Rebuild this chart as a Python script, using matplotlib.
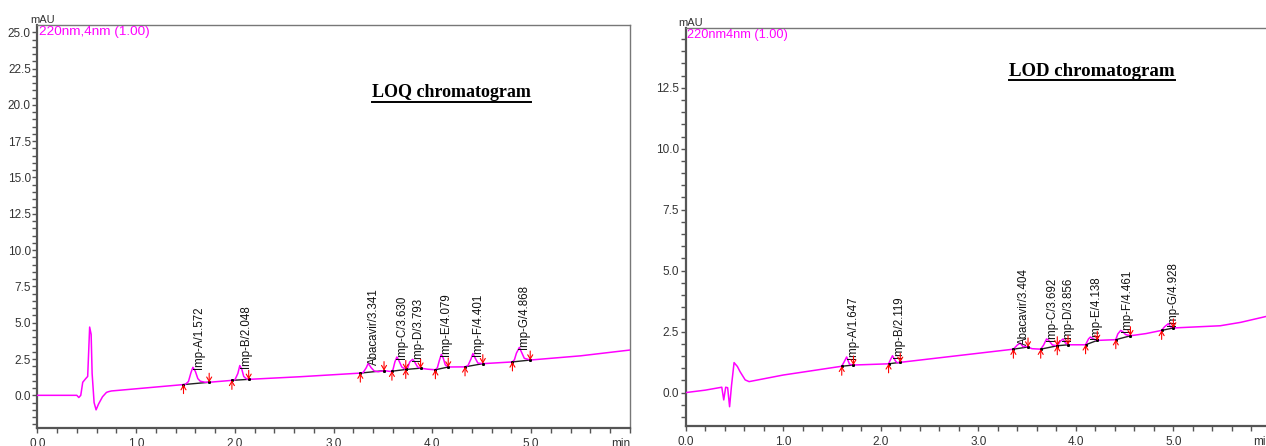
import matplotlib
matplotlib.use('Agg')
import matplotlib.pyplot as plt
from matplotlib.ticker import FixedLocator, MultipleLocator, FormatStrFormatter
from matplotlib.lines import Line2D

plt.rcParams['font.family'] = ['Liberation Sans', 'DejaVu Sans']

# ---------------- LOQ chromatogram (left) ----------------
loq_t = [0.00, 0.40, 0.42, 0.44, 0.46, 0.49, 0.51, 0.53, 0.545, 0.555, 0.575, 0.595,
         0.62, 0.66, 0.70, 0.72, 0.75, 1.00, 1.48,
         1.50, 1.53, 1.555, 1.575, 1.60, 1.625, 1.65, 1.70, 1.74,
         1.97, 2.00, 2.03, 2.05, 2.07, 2.09, 2.12, 2.14,
         2.66, 3.27,
         3.30, 3.33, 3.35, 3.38, 3.41, 3.45, 3.51,
         3.58, 3.60, 3.62, 3.64, 3.66, 3.69, 3.73,
         3.75, 3.77, 3.80, 3.82, 3.85, 3.88,
         3.95, 4.03,
         4.05, 4.07, 4.09, 4.11, 4.13, 4.16,
         4.33, 4.36, 4.39, 4.41, 4.43, 4.46, 4.51,
         4.81, 4.83, 4.85, 4.88, 4.90, 4.93, 4.99,
         5.50, 6.00]
loq_y = [0.00, 0.00, -0.15, 0.00, 0.90, 1.15, 1.30, 4.70, 4.20, 1.50, -0.50, -1.00,
         -0.60, -0.10, 0.20, 0.25, 0.30, 0.45, 0.74,
         0.76, 0.95, 1.55, 1.93, 1.65, 1.15, 0.97, 0.90, 0.90,
         1.03, 1.06, 1.50, 2.05, 1.80, 1.30, 1.12, 1.10,
         1.28, 1.53,
         1.58, 1.90, 2.20, 1.90, 1.68, 1.62, 1.70,
         1.64, 1.75, 2.30, 2.64, 2.40, 1.95, 1.78,
         1.90, 2.30, 2.48, 2.30, 1.95, 1.87,
         1.80, 1.76,
         1.90, 2.40, 2.82, 2.55, 2.10, 1.95,
         1.96, 2.05, 2.50, 2.88, 2.60, 2.22, 2.18,
         2.30, 2.45, 2.90, 3.30, 3.00, 2.55, 2.43,
         2.72, 3.12]
loq_names = ['Imp-A', 'Imp-B', 'Abacavir', 'Imp-C', 'Imp-D', 'Imp-E', 'Imp-F', 'Imp-G']
loq_rt = [1.572, 2.048, 3.341, 3.630, 3.793, 4.079, 4.401, 4.868]
loq_apex = [1.93, 2.05, 2.20, 2.64, 2.48, 2.82, 2.88, 3.30]
loq_start_t = [1.48, 1.97, 3.27, 3.59, 3.73, 4.03, 4.33, 4.81]
loq_start_y = [0.74, 1.03, 1.53, 1.66, 1.78, 1.76, 1.96, 2.30]
loq_end_t = [1.74, 2.14, 3.51, 3.73, 3.88, 4.16, 4.51, 4.99]
loq_end_y = [0.90, 1.10, 1.70, 1.78, 1.87, 1.95, 2.18, 2.43]

# ---------------- LOD chromatogram (right) ----------------
lod_t = [0.00, 0.20, 0.37, 0.39, 0.41, 0.43, 0.45, 0.47, 0.496, 0.53, 0.557, 0.61, 0.65,
         1.00, 1.60,
         1.63, 1.65, 1.68, 1.72,
         2.08, 2.10, 2.12, 2.15, 2.17, 2.20,
         3.36, 3.40, 3.43, 3.46, 3.48, 3.51,
         3.55, 3.64, 3.67, 3.70, 3.72, 3.76, 3.81,
         3.84, 3.87, 3.89, 3.92,
         4.10, 4.13, 4.15, 4.18, 4.22,
         4.41, 4.43, 4.46, 4.48, 4.51, 4.56,
         4.72, 4.88, 4.91, 4.95, 4.97, 5.00,
         5.48, 5.69, 5.96]
lod_y = [0.00, 0.10, 0.22, -0.30, 0.22, 0.20, -0.58, 0.30, 1.23, 1.07, 0.86, 0.52, 0.45,
         0.72, 1.08,
         1.30, 1.46, 1.16, 1.13,
         1.18, 1.35, 1.51, 1.30, 1.22, 1.24,
         1.78, 1.95, 2.03, 1.88, 1.90, 1.87,
         1.80, 1.78, 1.95, 2.20, 2.15, 1.95, 1.92,
         2.10, 2.20, 2.05, 1.96,
         1.96, 2.20, 2.28, 2.20, 2.14,
         2.17, 2.40, 2.55, 2.50, 2.38, 2.33,
         2.42, 2.55, 2.70, 2.83, 2.70, 2.65,
         2.74, 2.88, 3.13]
lod_names = ['Imp-A', 'Imp-B', 'Abacavir', 'Imp-C', 'Imp-D', 'Imp-E', 'Imp-F', 'Imp-G']
lod_rt = [1.647, 2.119, 3.404, 3.692, 3.856, 4.138, 4.461, 4.928]
lod_apex = [1.46, 1.51, 2.03, 2.20, 2.20, 2.28, 2.55, 2.83]
lod_start_t = [1.60, 2.08, 3.36, 3.64, 3.81, 4.10, 4.41, 4.88]
lod_start_y = [1.08, 1.18, 1.78, 1.78, 1.92, 1.96, 2.17, 2.55]
lod_end_t = [1.72, 2.20, 3.51, 3.81, 3.92, 4.22, 4.56, 5.00]
lod_end_y = [1.13, 1.24, 1.87, 1.92, 1.96, 2.14, 2.33, 2.65]

W, H = 1266, 446
fig = plt.figure(figsize=(W / 100, H / 100), dpi=100)

MAG = '#FF00FF'
AXC = '#555555'
TXC = '#333333'


def px_axes(l, r, t, b):
    return fig.add_axes([l / W, (H - b) / H, (r - l) / W, (b - t) / H])


def draw_panel(ax, t, y, names, rts, apex, st, sy, et, ey, xlim, ylim, yticks,
               wl_text, wl_size, min_x, min_ha, right_spine):
    ax.plot(t, y, color=MAG, lw=1.1, zorder=3)
    for a, b, c, d in zip(st, sy, et, ey):
        ax.plot([a, c], [b, d], color='#222222', lw=1.0, zorder=2)
        ax.plot([a, c], [b, d], ls='none', marker='s', ms=1.1, color='black', zorder=4)
    for a, b in zip(st, sy):
        ax.annotate('', xy=(a, b), xytext=(0, -6.5), textcoords='offset points',
                    arrowprops=dict(arrowstyle='->,head_length=0.3,head_width=0.18',
                                    color='#FF0000', lw=0.8, shrinkA=0, shrinkB=0), zorder=5)
    for a, b in zip(et, ey):
        ax.annotate('', xy=(a, b), xytext=(0, 6.5), textcoords='offset points',
                    arrowprops=dict(arrowstyle='->,head_length=0.3,head_width=0.18',
                                    color='#FF0000', lw=0.8, shrinkA=0, shrinkB=0), zorder=5)
    for n, r, h in zip(names, rts, apex):
        ax.annotate(f'{n}/{r:.3f}', xy=(r, h), xytext=(4.5, -1.5), textcoords='offset points',
                    rotation=90, ha='center', va='bottom', fontsize=8.3, color='#111111')
    ax.set_xlim(*xlim)
    ax.set_ylim(*ylim)
    ax.xaxis.set_major_locator(FixedLocator([0, 1, 2, 3, 4, 5]))
    ax.xaxis.set_minor_locator(MultipleLocator(0.2))
    ax.yaxis.set_major_locator(FixedLocator(yticks))
    ax.yaxis.set_minor_locator(MultipleLocator(0.5))
    ax.xaxis.set_major_formatter(FormatStrFormatter('%.1f'))
    ax.yaxis.set_major_formatter(FormatStrFormatter('%.1f'))
    ax.tick_params(which='both', direction='out', length=3.6, width=1.0, color=AXC,
                   labelcolor=TXC, labelsize=8.5)
    ax.tick_params(axis='y', which='both', pad=1)
    ax.tick_params(axis='x', which='both', pad=3.3)
    ax.spines['left'].set_color(AXC)
    ax.spines['left'].set_linewidth(1.6)
    ax.spines['bottom'].set_color(AXC)
    ax.spines['bottom'].set_linewidth(1.6)
    ax.spines['top'].set_color('#777777')
    ax.spines['top'].set_linewidth(1.0)
    if right_spine:
        ax.spines['right'].set_color('#777777')
        ax.spines['right'].set_linewidth(1.0)
    else:
        ax.spines['right'].set_visible(False)
    ax.annotate(wl_text, xy=(0, 1), xycoords='axes fraction', xytext=(1, -0.5),
                textcoords='offset points', ha='left', va='top', color=MAG, fontsize=wl_size)
    ax.annotate('mAU', xy=(0, 1), xycoords='axes fraction', xytext=(-5.2, 0.3),
                textcoords='offset points', ha='left', va='bottom', color=TXC, fontsize=8)
    ax.annotate('min', xy=(min_x, 0), xycoords='axes fraction', xytext=(0, -7.3),
                textcoords='offset points', ha=min_ha, va='top', color=TXC, fontsize=8.5,
                annotation_clip=False)


ax1 = px_axes(37.3, 630.0, 25.3, 428.0)
draw_panel(ax1, loq_t, loq_y, loq_names, loq_rt, loq_apex,
           loq_start_t, loq_start_y, loq_end_t, loq_end_y,
           (0, 6.0), (-2.25, 25.48), [0, 2.5, 5, 7.5, 10, 12.5, 15, 17.5, 20, 22.5, 25],
           '220nm,4nm (1.00)', 9.7, 1.0, 'right', True)

ax2 = px_axes(685.7, 1266.0, 28.0, 426.0)
draw_panel(ax2, lod_t, lod_y, lod_names, lod_rt, lod_apex,
           lod_start_t, lod_start_y, lod_end_t, lod_end_y,
           (0, 5.95), (-1.37, 14.95), [0, 2.5, 5, 7.5, 10, 12.5],
           '220nm4nm (1.00)', 9.2, 0.978, 'left', False)

t1 = ax1.text((371.7 - 37.3) / 592.7, (428 - 97.3) / 402.7, 'LOQ chromatogram',
              transform=ax1.transAxes, ha='left', va='baseline', fontsize=13,
              fontweight='bold', family='Liberation Serif', color='black')
t2 = ax2.text((1009.3 - 685.7) / 580.3, (426 - 76.0) / 398.0, 'LOD chromatogram',
              transform=ax2.transAxes, ha='left', va='baseline', fontsize=13.6,
              fontweight='bold', family='Liberation Serif', color='black')

fig.canvas.draw()
for tt in (t1, t2):
    bb = tt.get_window_extent().transformed(fig.transFigure.inverted())
    yy = bb.y0 - 0.5 / H
    fig.add_artist(Line2D([bb.x0, bb.x1], [yy, yy], transform=fig.transFigure,
                          color='black', lw=1.4))

fig.savefig('out.png', dpi=100)
